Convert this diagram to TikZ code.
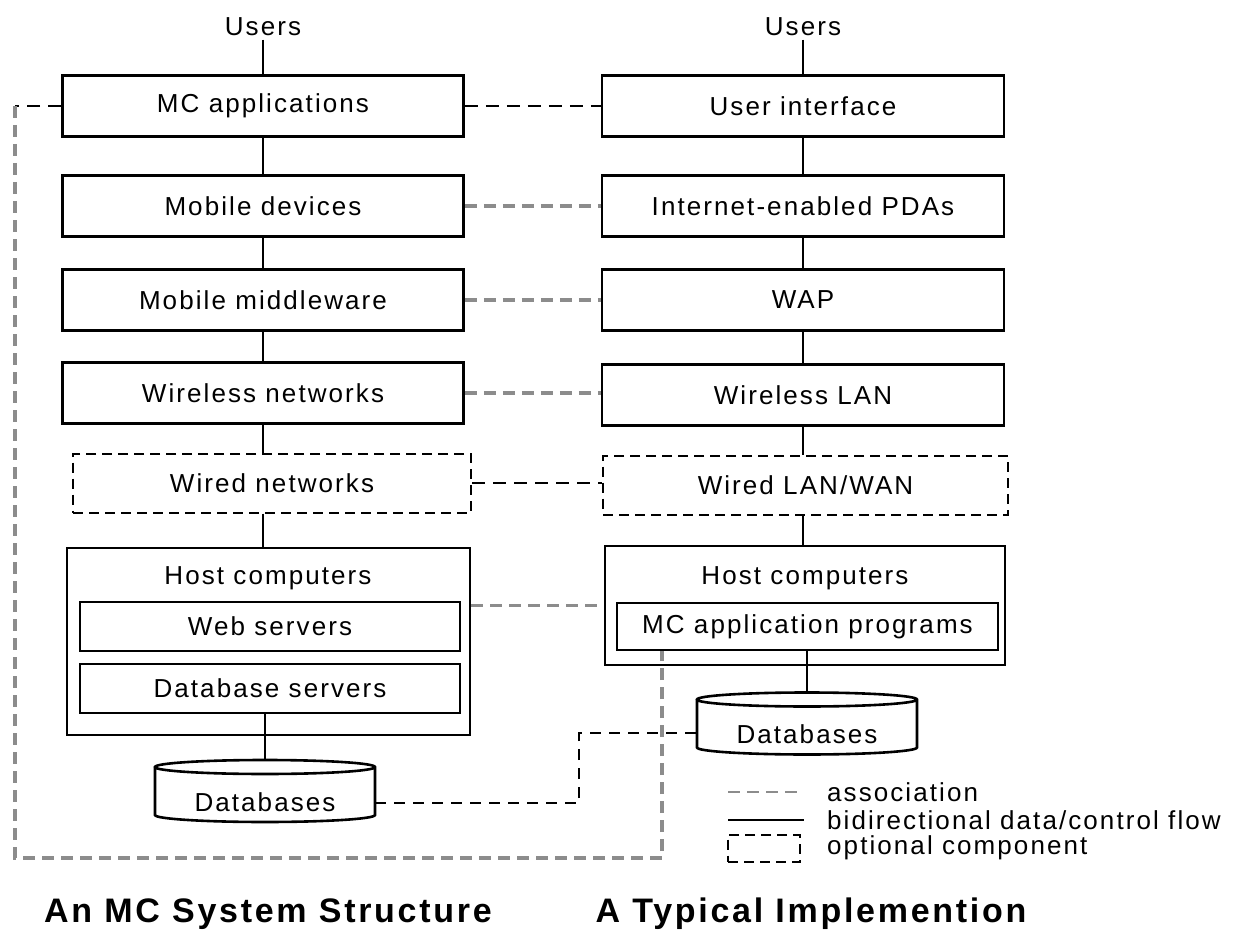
\documentclass[tikz,border=0pt]{standalone}
\usepackage{fontspec}
\setmainfont{Liberation Sans}[LetterSpace=8]
\newfontfamily\titlefont{Liberation Sans}[LetterSpace=8]
\usepackage{tikz}

\begin{document}
\begin{tikzpicture}[x=1pt,y=-1pt,
  font=\fontsize{26}{30}\selectfont,
  box/.style={draw,line width=2.6pt,minimum width=401pt,minimum height=61pt},
  optbox/.style={draw,line width=2pt,dash pattern=on 10pt off 6pt,minimum height=59pt},
  hostbox/.style={draw,line width=2.6pt},
  innerbox/.style={draw,line width=2.2pt,minimum width=380pt,minimum height=49pt},
  dbshape/.style={minimum width=220pt,minimum height=62pt,inner sep=0pt,outer sep=0pt},
  dbline/.style={line width=2.6pt},
  flow/.style={line width=2.6pt},
  assoc/.style={draw=black!45,line width=3.5pt,dash pattern=on 12pt off 7pt},
  linkdash/.style={line width=2.6pt,dash pattern=on 13pt off 8pt},
  dblink/.style={line width=2pt,dash pattern=on 11pt off 8pt},
  legtext/.style={anchor=west,inner sep=0pt},
  titletext/.style={font=\titlefont\fontsize{34}{40}\selectfont\bfseries}]
\useasboundingbox (0,0) rectangle (1243,939);

% Left column
\node (usersL) at (263,27) {Users};
\node[box] (mcapps) at (263,106) {MC applications};
\node[box] (mobdev) at (263,206) {Mobile devices};
\node[box] (midware) at (263,300) {Mobile middleware};
\node[box] (wlnets) at (263,393) {Wireless networks};
\node[optbox,minimum width=398pt] (wdnets) at (272,483) {Wired networks};
\node[hostbox,minimum width=403pt,minimum height=187pt] (hostL) at (268.5,641.5) {};
\node (hostLt) at (268,578) {Host computers};
\node[innerbox] (websrv) at (270,626.5) {Web servers};
\node[innerbox] (dbsrv) at (270,688.5) {Database servers};
\node[dbshape,label={[yshift=-11pt]center:Databases}] (dbL) at (265,791) {};

% Right column
\node (usersR) at (803,27) {Users};
\node[box,minimum width=402pt] (userif) at (803,106) {User interface};
\node[box,minimum width=402pt] (pdas) at (803,206) {Internet-enabled PDAs};
\node[box,minimum width=402pt] (wap) at (803,300) {WAP};
\node[box,minimum width=402pt] (wlan) at (803,395) {Wireless LAN};
\node[optbox,minimum width=405pt] (wdlan) at (805.5,485) {Wired LAN/WAN};
\node[hostbox,minimum width=400pt,minimum height=119pt] (hostR) at (805,605.5) {};
\node (hostRt) at (805,578) {Host computers};
\node[innerbox,minimum width=381pt,minimum height=47pt] (mcprog) at (807.5,626.5) {MC application programs};
\node[dbshape,label={[yshift=-11pt]center:Databases}] (dbR) at (807,723.5) {};

% Cylinders
\foreach \db in {dbL,dbR} {
  \draw[dbline] ([yshift=-7pt]\db.north west) -- ([yshift=7pt]\db.south west)
    arc[start angle=180,end angle=360,x radius=110pt,y radius=7pt]
    -- ([yshift=-7pt]\db.north east)
    arc[start angle=0,end angle=360,x radius=110pt,y radius=7pt];
}

% Data/control flow
\foreach \a/\b in {usersL/mcapps,mcapps/mobdev,mobdev/midware,midware/wlnets}
  \draw[flow] (\a) -- (\b);
\draw[flow] (wlnets) -- (wlnets |- wdnets.north);
\draw[flow] (wdnets.south -| wlnets) -- (hostL.north -| wlnets);
\draw[flow] (dbsrv.south -| dbL.north) -- (dbL.north);
\foreach \a/\b in {usersR/userif,userif/pdas,pdas/wap,wap/wlan}
  \draw[flow] (\a) -- (\b);
\draw[flow] (wlan) -- (wlan |- wdlan.north);
\draw[flow] (wdlan.south -| wlan) -- (hostR.north -| wlan);
\draw[flow] (mcprog.south -| dbR.north) -- (dbR.north);

% Associations
\draw[linkdash] (mcapps) -- (userif);
\draw[assoc] (mobdev) -- (pdas);
\draw[assoc] (midware) -- (wap);
\draw[assoc] (wlnets.east) -- (wlnets.east -| wlan.west);
\draw[linkdash] (wdnets.east) -- (wdnets.east -| wdlan.west);
\draw[assoc] (hostL.east |- hostR.west) -- (hostR.west);
\coordinate (dbturn) at (579,733);
\draw[dblink] ([yshift=-12pt]dbL.east) -| (dbturn) -- (dbturn -| dbR.west);
\coordinate (loopL) at (15,106);
\coordinate (loopB) at (662,858);
\draw[linkdash] (mcapps.west) -- (loopL);
\draw[assoc] (loopL) |- (loopB) -- (loopB |- mcprog.south);

% Legend
\node[legtext] (legassoc) at (827,792) {association};
\node[legtext] (legflow) at (827,820) {bidirectional data/control flow};
\node[legtext] (legopt) at (827,848) {optional component};
\draw[assoc,line width=2pt] ([xshift=-99pt]legassoc.west) -- ([xshift=-23pt]legassoc.west);
\draw[flow] ([xshift=-99pt]legflow.west) -- ([xshift=-23pt]legflow.west);
\node[optbox,minimum width=72pt,minimum height=27pt] (legbox) at (764,848) {};

% Titles
\node[titletext] (titleL) at (268,914) {An MC System Structure};
\node[titletext] (titleR) at (811,914) {A Typical Implemention};
\end{tikzpicture}
\end{document}
